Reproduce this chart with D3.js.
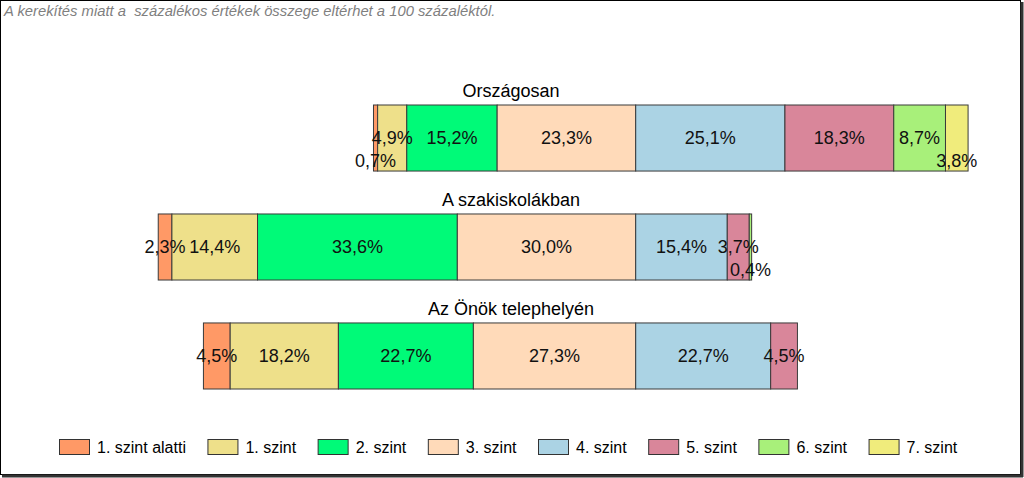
<!DOCTYPE html>
<html><head><meta charset="utf-8">
<script src="https://cdn.jsdelivr.net/npm/d3@7"></script>
<style>
body{margin:0;background:#fff;}
svg{display:block;font-family:"Liberation Sans",Arial,sans-serif;}
</style></head>
<body>
<svg id="chart" width="1024" height="478"></svg>
<script>
const categories = ["Országosan", "A szakiskolákban", "Az Önök telephelyén"];
const levels = ["1. szint alatti", "1. szint", "2. szint", "3. szint", "4. szint", "5. szint", "6. szint", "7. szint"];
const valuesOrszagosan = [0.7, 4.9, 15.2, 23.3, 25.1, 18.3, 8.7, 3.8];
const valuesSzakiskola = [2.3, 14.4, 33.6, 30.0, 15.4, 3.7, 0.4, 0];
const valuesTelephely = [4.5, 18.2, 22.7, 27.3, 22.7, 4.5, 0, 0];
const colors = ["#FF9966", "#EEE08A", "#00FA78", "#FFDAB9", "#ABD3E4", "#D9869A", "#A8F07A", "#F0EC7C"];
const noteText = "A kerekítés miatt a  százalékos értékek összege eltérhet a 100 százaléktól.";
const pivotIndex = 4; // bars are aligned at the start of "4. szint"

const seriesValues = [valuesOrszagosan, valuesSzakiskola, valuesTelephely];

const svg = d3.select("#chart");
const W = 1024, H = 478;

// frame
svg.append("rect").attr("x", 0.5).attr("y", 0.5).attr("width", W - 4).attr("height", H - 4)
  .attr("fill", "#fff").attr("stroke", "#000").attr("stroke-width", 1);
svg.append("line").attr("x1", W - 2).attr("x2", W - 2).attr("y1", 2).attr("y2", H - 1)
  .attr("stroke", "#333").attr("stroke-width", 3);
svg.append("line").attr("x1", 2).attr("x2", W - 1).attr("y1", H - 2).attr("y2", H - 2)
  .attr("stroke", "#333").attr("stroke-width", 3);

svg.append("text").attr("x", 4).attr("y", 16)
  .attr("font-size", 14.8).attr("font-style", "italic").attr("fill", "#7f7f7f")
  .style("white-space", "pre").text(noteText);

const x = d3.scaleLinear().domain([-100, 100]).range([635.7 - 594.6, 635.7 + 594.6]);
const y = d3.scaleBand().domain(categories).range([105, 389]).paddingInner(0.394).paddingOuter(0);
const bw = y.bandwidth();

categories.forEach((cat, ci) => {
  const vals = seriesValues[ci];
  const before = d3.sum(vals.slice(0, pivotIndex));
  let acc = -before;
  const segs = vals.map((v, i) => {
    const s = {v, i, x0: acc, x1: acc + v};
    acc += v;
    return s;
  });
  const g = svg.append("g");
  g.append("text").attr("x", 511).attr("y", y(cat) - 8)
    .attr("text-anchor", "middle").attr("font-size", 18).attr("fill", "#000").text(cat);
  g.selectAll("rect").data(segs.filter(s => s.v > 0)).join("rect")
    .attr("x", s => x(s.x0)).attr("y", y(cat))
    .attr("width", s => x(s.x1) - x(s.x0)).attr("height", bw)
    .attr("fill", s => colors[s.i]).attr("stroke", "#3a3a3a").attr("stroke-width", 1);
  const labs = g.selectAll("text.lab").data(segs.filter(s => s.v > 0)).join("text")
    .attr("class", "lab")
    .attr("x", s => (x(s.x0) + x(s.x1)) / 2).attr("y", y(cat) + bw / 2)
    .attr("dy", "0.35em").attr("text-anchor", "middle").attr("font-size", 18).attr("fill", "#111")
    .text(s => d3.format(".1f")(s.v).replace(".", ",") + "%");
  // collision avoidance: the smaller of two overlapping neighbours moves down
  const nodes = labs.nodes();
  const info = nodes.map(n => {
    const d = d3.select(n).datum();
    const w = n.getComputedTextLength();
    const cx = (x(d.x0) + x(d.x1)) / 2;
    return {n, d, l: cx - w / 2, r: cx + w / 2, down: false};
  });
  for (let k = 1; k < info.length; k++) {
    const a = info[k - 1], b = info[k];
    if (a.down || b.down) continue;
    if (a.r > b.l) {
      const m = a.d.v < b.d.v ? a : b;
      m.down = true;
      d3.select(m.n).attr("y", y(cat) + bw / 2 + 23);
    }
  }
});

// legend
const legend = svg.append("g");
let lx = 59;
levels.forEach((lv, i) => {
  legend.append("rect").attr("x", lx + 0.5).attr("y", 439.5).attr("width", 30).attr("height", 15)
    .attr("fill", colors[i]).attr("stroke", "#333").attr("stroke-width", 1);
  const t = legend.append("text").attr("x", lx + 38).attr("y", 452.5)
    .attr("font-size", 16).attr("fill", "#000").text(lv);
  lx += 38 + t.node().getComputedTextLength() + 21.5;
});
</script>
</body></html>
